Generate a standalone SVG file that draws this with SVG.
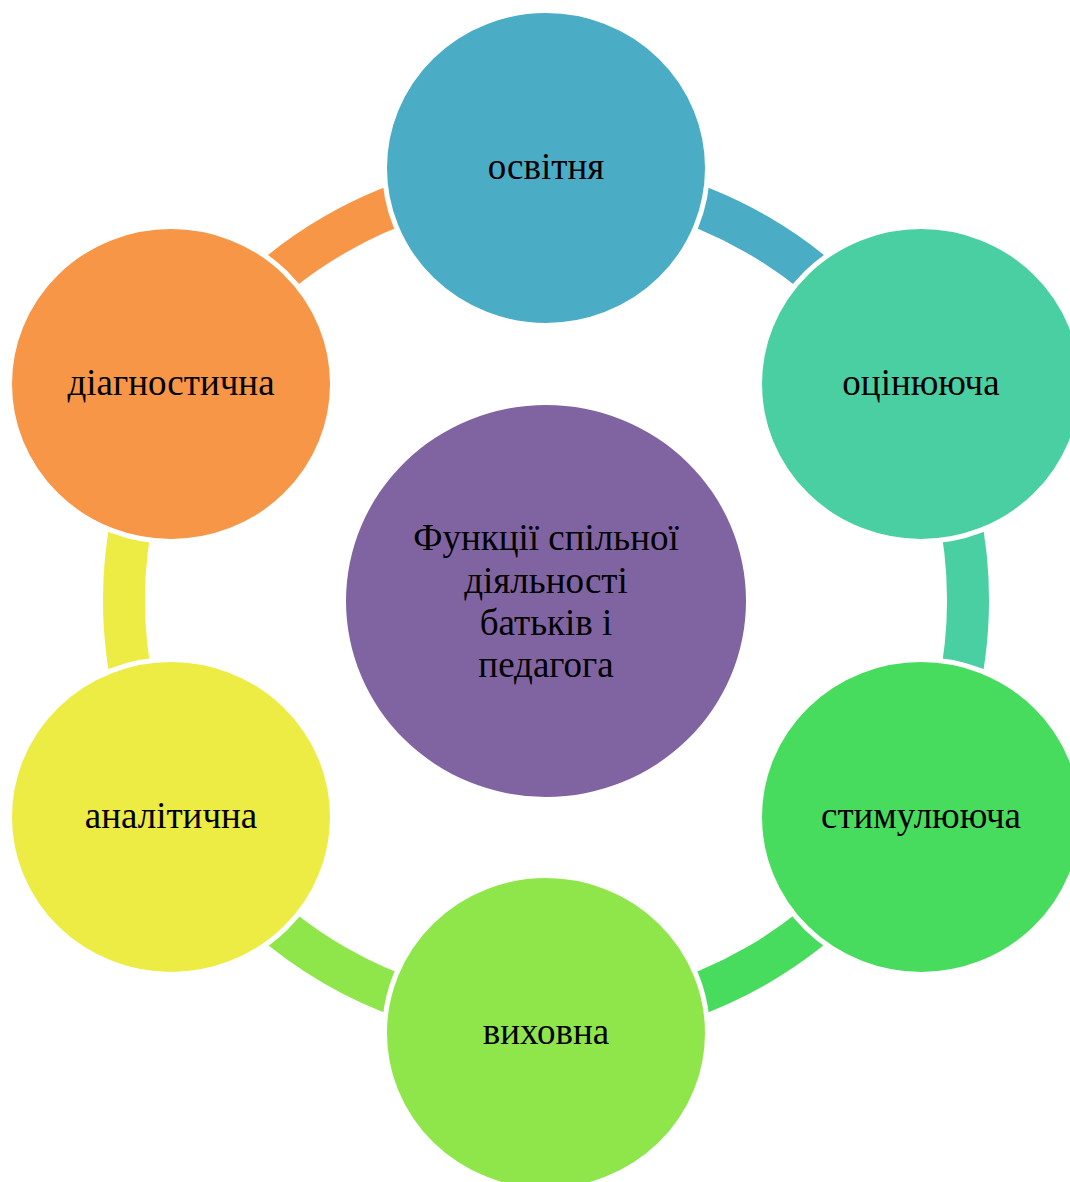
<svg xmlns="http://www.w3.org/2000/svg" width="1070" height="1182" viewBox="0 0 1070 1182">
<style>
.arc{fill:none;stroke-width:42;stroke-linecap:butt}
.node{stroke:#ffffff;stroke-width:5}
.lbl{font-family:"Liberation Serif","Times New Roman",serif;font-size:37px;fill:#000000;text-anchor:middle}
</style>
<rect width="1070" height="1182" fill="#ffffff"/>
<g id="connectors">
<path class="arc" stroke="#4BACC6" d="M546,178 A422,422 0 0 1 911.5,389"/>
<path class="arc" stroke="#4ACFA3" d="M911.5,389 A422,422 0 0 1 911.5,811"/>
<path class="arc" stroke="#48DC5E" d="M911.5,811 A422,422 0 0 1 546,1022"/>
<path class="arc" stroke="#8EE64A" d="M546,1022 A422,422 0 0 1 180.5,811"/>
<path class="arc" stroke="#ECEC45" d="M180.5,811 A422,422 0 0 1 180.5,389"/>
<path class="arc" stroke="#F79646" d="M180.5,389 A422,422 0 0 1 546,178"/>
</g>
<g id="center">
<ellipse cx="546" cy="601" rx="200" ry="196" fill="#8064A2"/>
<text class="lbl"><tspan x="546" y="550">Функції спільної</tspan><tspan x="546" y="593">діяльності</tspan><tspan x="546" y="635">батьків і</tspan><tspan x="546" y="677">педагога</tspan></text>
</g>
<g id="node-osvitnia">
<ellipse class="node" cx="546" cy="168" rx="161.5" ry="157.5" fill="#4BACC6"/>
<text class="lbl" x="546" y="179">освітня</text>
</g>
<g id="node-otsiniuiucha">
<ellipse class="node" cx="921" cy="384" rx="161.5" ry="157.5" fill="#4ACFA3"/>
<text class="lbl" x="921" y="395">оцінююча</text>
</g>
<g id="node-stymuliuiucha">
<ellipse class="node" cx="921" cy="817" rx="161.5" ry="157.5" fill="#48DC5E"/>
<text class="lbl" x="921" y="828">стимулююча</text>
</g>
<g id="node-vykhovna">
<ellipse class="node" cx="546" cy="1033" rx="161.5" ry="157.5" fill="#8EE64A"/>
<text class="lbl" x="546" y="1044">виховна</text>
</g>
<g id="node-analitychna">
<ellipse class="node" cx="171" cy="817" rx="161.5" ry="157.5" fill="#ECEC45"/>
<text class="lbl" x="171" y="828">аналітична</text>
</g>
<g id="node-diahnostychna">
<ellipse class="node" cx="171" cy="384" rx="161.5" ry="157.5" fill="#F79646"/>
<text class="lbl" x="171" y="395">діагностична</text>
</g>
</svg>
